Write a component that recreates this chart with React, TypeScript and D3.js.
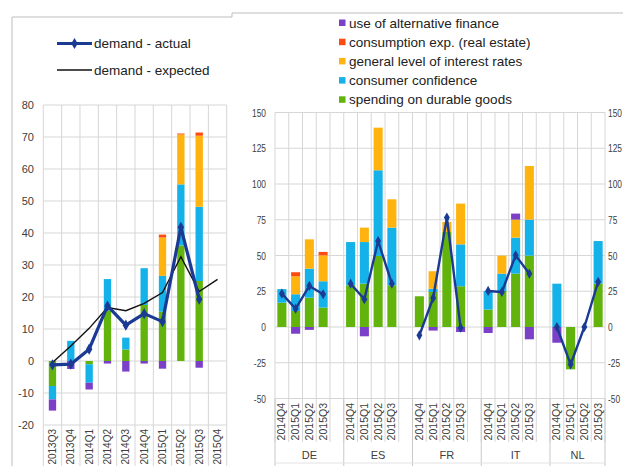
import React from "react";
import * as d3 from "d3";

// ---------- Left panel data ----------
const leftCats = ["2013Q3", "2013Q4", "2014Q1", "2014Q2", "2014Q3", "2014Q4", "2015Q1", "2015Q2", "2015Q3", "2015Q4"];
const leftSpending = [-7.8, 0, -1, 15.8, 3.6, 17.5, 15.4, 36.1, 25, 0];
const leftConfidence = [-4.2, 6.3, -5.8, 9.8, 3.7, 11.5, 11.2, 19.1, 23.2, 0];
const leftInterest = [0, 0, 0, 0, 0, 0, 12, 15.6, 22.2, 0];
const leftConsumption = [0, 0, 0, 0, 0, 0, 0.9, 0.3, 1, 0];
const leftAltFin = [-3.5, -2.5, -2.1, -0.8, -3.3, -0.8, -2.4, 0, -2.1, 0];
const leftActual: (number | null)[] = [-1.2, -1, 3.7, 17.2, 11.2, 14.8, 12.3, 41.8, 19.3, null];
const leftExpected = [-0.5, 4.7, 10.2, 16.7, 15.7, 18, 21.4, 32.6, 21.7, 25.5];
const leftTicks = [-20, -10, 0, 10, 20, 30, 40, 50, 60, 70, 80];

// ---------- Right panel data ----------
const countries = ["DE", "ES", "FR", "IT", "NL"];
const quarters = ["2014Q4", "2015Q1", "2015Q2", "2015Q3"];
// ordered country by country, quarter by quarter
const rSpending = [17, 11.2, 20.5, 13.6, 29.2, 30.3, 49.7, 29.2, 21.5, 24.5, 66.4, 28.5, 12.2, 25.2, 37.3, 49.9, 0, -29.6, 0, 30.3];
const rConfidence = [9.5, 11.7, 20.3, 18.4, 30.2, 29.1, 59.9, 40.3, 0, 2.3, 0, 29.3, 13, 12.1, 25.2, 25.2, 30.3, 0, 0, 29.8];
const rInterest = [0, 12.6, 20.5, 18.1, 0, 10.1, 29.8, 19.8, 0, 12.2, 7, 28.5, 0, 12.6, 12.6, 37.5, 0, 0, 0, 0];
const rConsumption = [0, 2.8, 0, 2.4, 0, 0, 0, 0, 0, 0, 0, 0, 0, 0, 0, 0, 0, 0, 0, 0];
const rAltFin = [0, -4.7, -2, 0, 0, -6.5, 0, 0, 0, -2.5, 0, -3.5, -4.2, 0, 4.2, -8.6, -11, 0, 0, 0];
const rActual = [23.3, 12.8, 28.7, 22.9, 30.3, 19.4, 60.1, 30.3, -5.8, 20.3, 76.5, -0.5, 25.2, 24.5, 50.1, 37.3, 0, -26.1, 0, 31.5];
const rightTicks = [-50, -25, 0, 25, 50, 75, 100, 125, 150];

const seriesKeys = ["spending", "confidence", "interest", "consumption", "altfin"];
const seriesLabels: Record<string, string> = {
  altfin: "use of alternative finance",
  consumption: "consumption exp. (real estate)",
  interest: "general level of interest rates",
  confidence: "consumer confidence",
  spending: "spending on durable goods",
};
const colors: Record<string, string> = {
  spending: "#62B40C",
  confidence: "#14B2E8",
  interest: "#FFB30F",
  consumption: "#FF4A12",
  altfin: "#7C3FC8",
};
const legendOrder = ["altfin", "consumption", "interest", "confidence", "spending"];

const GRID = "#d6d6d6";
const TXT = "#404040";
const LINEBLUE = "#1B3A94";
const FONT = "Liberation Sans, Arial, sans-serif";

export default function App() {
  // ---------- left scales ----------
  const xL = d3.scaleBand<string>().domain(leftCats).range([43.3, 226.7]);
  const yL = d3.scaleLinear().domain([-20, 80]).range([425, 105]);
  const leftRows = leftCats.map((c, i) => ({
    cat: c,
    spending: leftSpending[i],
    confidence: leftConfidence[i],
    interest: leftInterest[i],
    consumption: leftConsumption[i],
    altfin: leftAltFin[i],
  }));
  const stack = d3.stack<any>().keys(seriesKeys).offset(d3.stackOffsetDiverging);
  const leftStack = stack(leftRows);
  const bwL = xL.bandwidth() * 0.4;

  const lineL = d3
    .line<number | null>()
    .defined((d) => d !== null)
    .x((_, i) => (xL(leftCats[i]) as number) + xL.bandwidth() / 2)
    .y((d) => yL(d as number));

  // ---------- right scales ----------
  const rKeys: string[] = [];
  countries.forEach((c, ci) => {
    quarters.forEach((q) => rKeys.push(c + "|" + q));
    if (ci < countries.length - 1) rKeys.push(c + "|gap");
  });
  const xR = d3.scaleBand<string>().domain(rKeys).range([275, 605]);
  const yR = d3.scaleLinear().domain([-50, 150]).range([398.5, 112.5]);
  const rightRows: any[] = [];
  countries.forEach((c, ci) =>
    quarters.forEach((q, qi) => {
      const i = ci * 4 + qi;
      rightRows.push({
        key: c + "|" + q,
        spending: rSpending[i],
        confidence: rConfidence[i],
        interest: rInterest[i],
        consumption: rConsumption[i],
        altfin: rAltFin[i],
      });
    })
  );
  const rightStack = stack(rightRows);
  const bwR = xR.bandwidth() * 0.66;
  const cxR = (k: string) => (xR(k) as number) + xR.bandwidth() / 2;

  const diamond = d3.symbol().type(d3.symbolDiamond).size(36)() as string;
  const diamondR = d3.symbol().type(d3.symbolDiamond).size(30)() as string;

  const lBound = [...leftCats.map((c) => xL(c) as number), 226.7];
  const rBound = [...rKeys.map((k) => xR(k) as number), 605];
  const groupStarts = countries.map((c) => xR(c + "|" + quarters[0]) as number).concat([605]);

  return (
    <svg
      width={623}
      height={466}
      style={{ position: "absolute", left: 0, top: 0, background: "#fff" }}
      fontFamily={FONT}
    >
      {/* frames */}
      <path d="M12,466 V17 H232 V13 H623" fill="none" stroke="#bdbdbd" strokeWidth={1} />

      {/* ---------- LEFT PANEL ---------- */}
      {leftTicks.map((t) => (
        <g key={"lt" + t}>
          <line x1={43.3} x2={226.7} y1={yL(t)} y2={yL(t)} stroke={GRID} />
          <text x={34} y={yL(t) + 4} textAnchor="end" fontSize={11} fill={TXT}>
            {t}
          </text>
        </g>
      ))}
      {lBound.map((x, i) => (
        <line key={"lv" + i} x1={x} x2={x} y1={105} y2={466} stroke={GRID} />
      ))}
      {leftStack.map((s) =>
        s.map((d, i) =>
          d[1] - d[0] !== 0 ? (
            <rect
              key={s.key + i}
              x={(xL(leftCats[i]) as number) + (xL.bandwidth() - bwL) / 2}
              width={bwL}
              y={yL(Math.max(d[0], d[1]))}
              height={Math.abs(yL(d[0]) - yL(d[1]))}
              fill={colors[s.key]}
            />
          ) : null
        )
      )}
      <path d={lineL(leftExpected) as string} fill="none" stroke="#111" strokeWidth={1.4} />
      <path d={lineL(leftActual) as string} fill="none" stroke={LINEBLUE} strokeWidth={3.2} strokeLinejoin="round" />
      {leftActual.map((v, i) =>
        v === null ? null : (
          <path
            key={"lm" + i}
            d={diamond}
            transform={`translate(${(xL(leftCats[i]) as number) + xL.bandwidth() / 2},${yL(v)})`}
            fill={LINEBLUE}
          />
        )
      )}
      {leftCats.map((c) => (
        <text
          key={"lx" + c}
          transform={`translate(${(xL(c) as number) + xL.bandwidth() / 2 + 3.5},429) rotate(-90)`}
          textAnchor="end"
          fontSize={10}
          fill={TXT}
        >
          {c}
        </text>
      ))}
      {/* left legend */}
      <line x1={57} x2={92} y1={43.5} y2={43.5} stroke={LINEBLUE} strokeWidth={3} />
      <path d={diamond} transform="translate(74.5,43.5)" fill={LINEBLUE} />
      <text x={94} y={48} fontSize={13.5} fill="#222">
        demand - actual
      </text>
      <line x1={57} x2={92} y1={70} y2={70} stroke="#111" strokeWidth={1.4} />
      <text x={94} y={74.5} fontSize={13.5} fill="#222">
        demand - expected
      </text>

      {/* ---------- RIGHT PANEL ---------- */}
      {rightTicks.map((t) => (
        <g key={"rt" + t}>
          <line x1={275} x2={605} y1={yR(t)} y2={yR(t)} stroke={GRID} />
          <text
            transform={`translate(266,${yR(t) + 4}) scale(0.8,1)`}
            textAnchor="end"
            fontSize={10.5}
            fill={TXT}
          >
            {t}
          </text>
          <text transform={`translate(608,${yR(t) + 4}) scale(0.8,1)`} fontSize={10.5} fill={TXT}>
            {t}
          </text>
        </g>
      ))}
      {rBound.map((x, i) => (
        <line key={"rv" + i} x1={x} x2={x} y1={112.5} y2={442} stroke={GRID} />
      ))}
      {groupStarts.map((x, i) => (
        <line key={"rg" + i} x1={x} x2={x} y1={398.5} y2={466} stroke="#c8c8c8" />
      ))}
      <line x1={275} x2={605} y1={463} y2={463} stroke="#e2e2e2" />
      {rightStack.map((s) =>
        s.map((d, i) =>
          d[1] - d[0] !== 0 ? (
            <rect
              key={s.key + "r" + i}
              x={(xR(rightRows[i].key) as number) + (xR.bandwidth() - bwR) / 2}
              width={bwR}
              y={yR(Math.max(d[0], d[1]))}
              height={Math.abs(yR(d[0]) - yR(d[1]))}
              fill={colors[s.key]}
            />
          ) : null
        )
      )}
      {countries.map((c, ci) => {
        const pts = quarters.map((q, qi) => [cxR(c + "|" + q), yR(rActual[ci * 4 + qi])] as [number, number]);
        return (
          <g key={"rl" + c}>
            <path d={d3.line()(pts) as string} fill="none" stroke={LINEBLUE} strokeWidth={2.4} strokeLinejoin="round" />
            {pts.map((p, i) => (
              <path key={i} d={diamondR} transform={`translate(${p[0]},${p[1]})`} fill={LINEBLUE} />
            ))}
          </g>
        );
      })}
      {countries.map((c) =>
        quarters.map((q) => (
          <text
            key={"rx" + c + q}
            transform={`translate(${cxR(c + "|" + q) + 3.5},403) rotate(-90)`}
            textAnchor="end"
            fontSize={10.5}
            fill={TXT}
          >
            {q}
          </text>
        ))
      )}
      {countries.map((c, ci) => {
        const x0 = groupStarts[ci];
        const x1 = groupStarts[ci + 1];
        return (
          <text key={"cl" + c} x={(x0 + x1) / 2} y={459} textAnchor="middle" fontSize={11} fill={TXT}>
            {c}
          </text>
        );
      })}
      {/* right legend */}
      {legendOrder.map((k, i) => (
        <g key={"lg" + k}>
          <rect x={339} y={19.5 + i * 19.2} width={6.5} height={6.5} fill={colors[k]} />
          <text x={349} y={27.5 + i * 19.2} fontSize={13.5} fill="#222">
            {seriesLabels[k]}
          </text>
        </g>
      ))}
    </svg>
  );
}
